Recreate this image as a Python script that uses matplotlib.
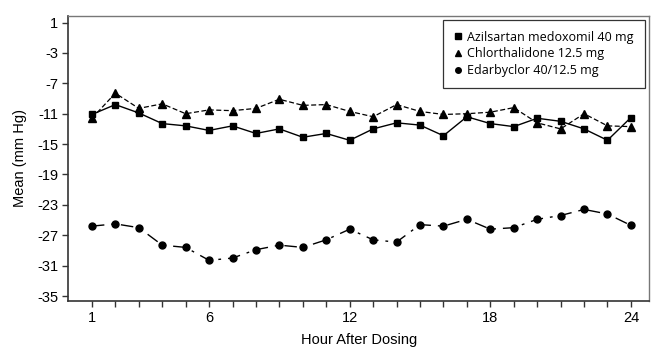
import numpy as np
import matplotlib.pyplot as plt

hours = np.arange(1, 25)
azilsartan = [-11.1, -9.8, -10.9, -12.3, -12.6, -13.2, -12.6, -13.6, -13.0, -14.1, -13.6, -14.5,
              -13.0, -12.2, -12.5, -13.9, -11.4, -12.3, -12.7, -11.6, -12.0, -13.0, -14.5, -11.5]
chlorthalidone = [-11.6, -8.3, -10.3, -9.7, -11.0, -10.5, -10.6, -10.3, -9.1, -9.9, -9.8, -10.7,
                  -11.4, -9.8, -10.7, -11.1, -11.0, -10.8, -10.2, -12.2, -13.0, -11.0, -12.6, -12.7]
edarbyclor = [-25.8, -25.5, -26.0, -28.3, -28.6, -30.3, -30.0, -28.9, -28.3, -28.6, -27.6, -26.2,
              -27.6, -27.9, -25.6, -25.8, -24.9, -26.2, -26.0, -24.9, -24.4, -23.6, -24.2, -25.7]
yticks = [1, -3, -7, -11, -15, -19, -23, -27, -31, -35]
xlabels = {1: '1', 6: '6', 12: '12', 18: '18', 24: '24'}

plt.rcParams['font.family'] = ['Liberation Sans', 'DejaVu Sans']

fig = plt.figure(figsize=(6.68, 3.57), dpi=100)
ax = fig.add_axes([0.1025, 0.158, 0.869, 0.798])

ax.plot(hours, azilsartan, color='black', lw=1, marker='s', ms=5,
        label='Azilsartan medoxomil 40 mg')
ax.plot(hours, chlorthalidone, color='black', lw=0.9, ls=(0, (4, 2)), marker='^', ms=5.5,
        label='Chlorthalidone 12.5 mg')
ax.plot(hours, edarbyclor, color='black', lw=1, ls=(0, (9, 5, 2, 5)), marker='o', ms=5,
        label='Edarbyclor 40/12.5 mg')

ax.set_xlim(0, 24.77)
ax.set_ylim(-35.6, 1.9)
ax.set_yticks(yticks)
ax.set_yticklabels([str(v) for v in yticks], fontsize=10.5)
ax.set_xticks(hours)
ax.set_xticklabels([xlabels.get(h, '') for h in hours], fontsize=10.5)
ax.tick_params(direction='out', length=4, width=1, color='#333333')
ax.set_xlabel('Hour After Dosing', fontsize=10.5, labelpad=6)
ax.set_ylabel('Mean (mm Hg)', fontsize=10.5, labelpad=7)

for s in ['left', 'bottom']:
    ax.spines[s].set_color('#333333')
    ax.spines[s].set_linewidth(1.2)
for s in ['top', 'right']:
    ax.spines[s].set_color('#777777')
    ax.spines[s].set_linewidth(1)

leg = ax.legend(loc='upper right', bbox_to_anchor=(0.9925, 0.985),
                frameon=True, fancybox=False, edgecolor='black', handlelength=0.7,
                handletextpad=0.4, borderpad=0.85, labelspacing=0.3, markerscale=0.8,
                borderaxespad=0, prop={'family': 'Open Sans', 'size': 9})
leg.get_frame().set_linewidth(0.9)
for h in leg.legend_handles:
    h.set_linestyle('none')

fig.savefig('out.png', dpi=100)
